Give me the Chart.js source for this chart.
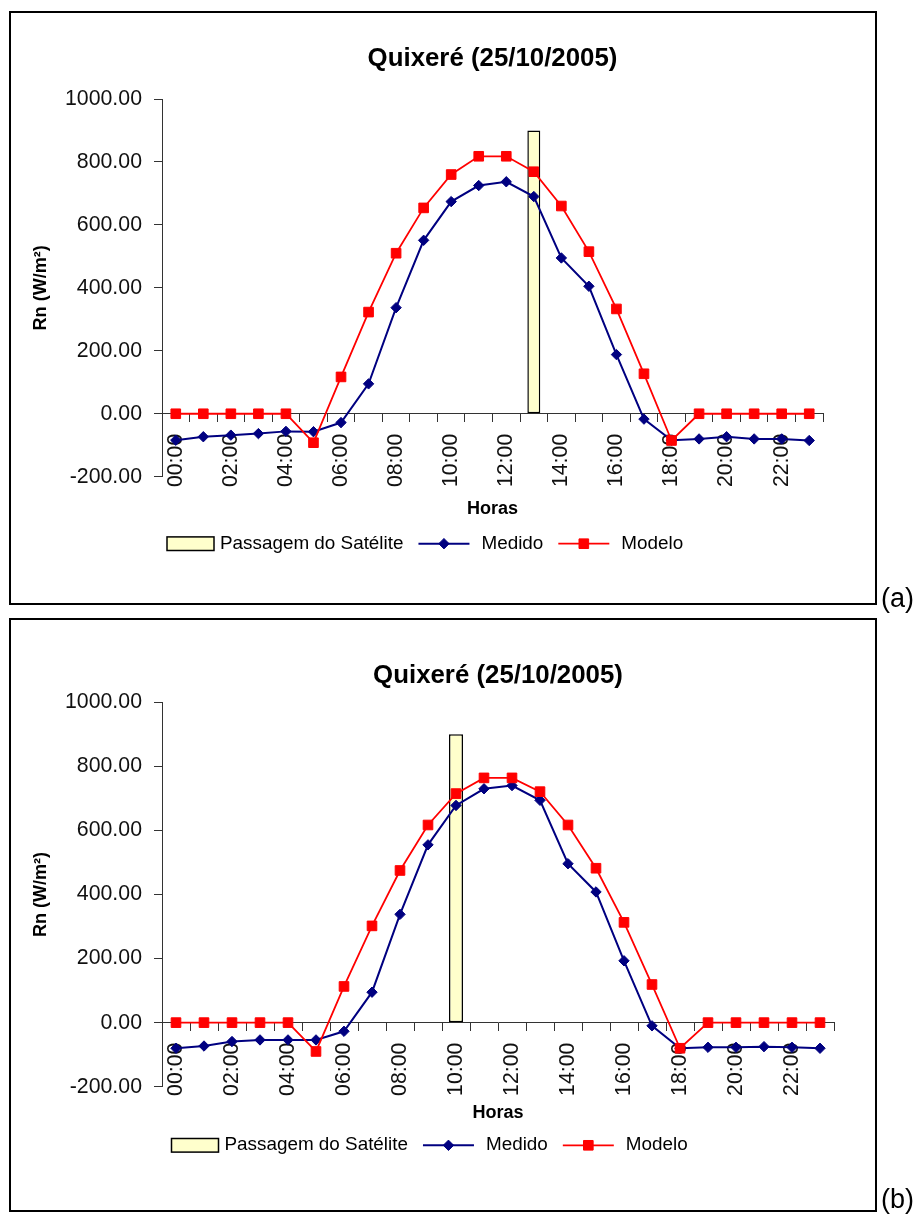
<!DOCTYPE html>
<html>
<head>
<meta charset="utf-8">
<script src="https://cdn.jsdelivr.net/npm/chart.js@4/dist/chart.umd.min.js"></script>
<style>
  html, body { margin: 0; padding: 0; background: #fff; }
  #page { position: relative; width: 915px; height: 1220px; overflow: hidden; background: #fff; }
  .frame { position: absolute; box-sizing: border-box; border: 2px solid #000; }
  .panel { position: absolute; left: 0; width: 915px; height: 610px; }
  .panel canvas { display: block; }
  .tag { position: absolute; left: 881px; font: 27px/30px "Liberation Sans", Arial, sans-serif; color: #000; }
</style>
</head>
<body>
<div id="page">
  <div class="frame" style="left:9px;top:11px;width:868px;height:594px"></div>
  <div class="frame" style="left:9px;top:618px;width:868px;height:594px"></div>
  <div class="panel" style="top:0"><canvas id="chartA" width="915" height="610"></canvas></div>
  <div class="panel" style="top:610px"><canvas id="chartB" width="915" height="610"></canvas></div>
  <div class="tag" style="top:583px">(a)</div>
  <div class="tag" style="top:1184px">(b)</div>
</div>
<script>
// Hourly net radiation, Quixeré, 25/10/2005
const hours = ['00:00','01:00','02:00','03:00','04:00','05:00','06:00','07:00','08:00','09:00','10:00','11:00',
               '12:00','13:00','14:00','15:00','16:00','17:00','18:00','19:00','20:00','21:00','22:00','23:00'];

// Panel (a): satellite overpass at 13:00
const satA    = [null,null,null,null,null,null,null,null,null,null,null,null,null,900,null,null,null,null,null,null,null,null,null,null];
const medidoA = [-84,-73,-68,-63,-56,-57,-28,95,337,551,674,725,737,690,495,405,188,-17,-84,-80,-73,-80,-80,-85];
const modeloA = [0,0,0,0,0,-92,117,323,510,654,760,818,818,769,660,515,333,127,-85,0,0,0,0,0];

// Panel (b): satellite overpass at 10:00
const satB    = [null,null,null,null,null,null,null,null,null,null,900,null,null,null,null,null,null,null,null,null,null,null,null,null];
const medidoB = [-80,-73,-59,-54,-54,-54,-27,95,338,555,678,730,740,694,496,408,193,-10,-80,-77,-77,-75,-77,-80];
const modeloB = [0,0,0,0,0,-90,113,302,475,617,715,764,764,721,617,482,313,119,-80,0,0,0,0,0];

const chartTitle = 'Quixeré (25/10/2005)';
const yTitle = 'Rn (W/m²)';
const xTitle = 'Horas';
const seriesNames = ['Passagem do Satélite', 'Medido', 'Modelo'];
const yMin = -200, yMax = 1000, yStep = 200;

// Prefer the narrow face; fall back to the regular one scaled to the same text widths.
const probe = document.createElement('canvas').getContext('2d');
function fontAvailable(name) {
  const sample = 'Passagem 1000.00 Horas';
  probe.font = '40px monospace';
  const base = probe.measureText(sample).width;
  probe.font = `40px "${name}", monospace`;
  return probe.measureText(sample).width !== base;
}
const NARROW = fontAvailable('Liberation Sans Narrow');
const FAMILY = NARROW ? '"Liberation Sans Narrow", "Arial Narrow", sans-serif'
                      : '"Liberation Sans", Arial, sans-serif';
const K = NARROW ? 1 : 0.82;

Chart.defaults.font.family = FAMILY;
Chart.defaults.color = '#111';

const AXIS_COLOR = '#333';

// Legend drawn as Excel does it: filled box for the bar, line + marker for the series
const comboLegend = {
  id: 'comboLegend',
  afterDraw(chart, args, opts) {
    const ctx = chart.ctx;
    ctx.save();
    ctx.font = `${23 * K}px ${FAMILY}`;
    ctx.textBaseline = 'middle';
    let x = opts.x;
    const y = opts.y;
    chart.data.datasets.forEach(ds => {
      if (ds.type === 'bar') {
        ctx.fillStyle = ds.backgroundColor;
        ctx.fillRect(x, y - 6.8, 47, 13.6);
        ctx.lineWidth = 1.5;
        ctx.strokeStyle = ds.borderColor;
        ctx.strokeRect(x, y - 6.8, 47, 13.6);
        x += 47 + 6;
      } else {
        ctx.strokeStyle = ds.borderColor;
        ctx.lineWidth = ds.borderWidth;
        ctx.beginPath();
        ctx.moveTo(x, y);
        ctx.lineTo(x + 51, y);
        ctx.stroke();
        ctx.fillStyle = ds.pointBackgroundColor;
        ctx.strokeStyle = ds.pointBorderColor;
        ctx.lineWidth = ds.pointBorderWidth;
        Chart.helpers.drawPoint(ctx, {
          pointStyle: ds.pointStyle, radius: ds.pointRadius,
          borderWidth: ds.pointBorderWidth, rotation: 0
        }, x + 25.5, y);
        x += 51 + 12;
      }
      ctx.fillStyle = '#000';
      ctx.fillText(ds.label, x, y);
      x += ctx.measureText(ds.label).width + 15;
    });
    ctx.restore();
  }
};

function buildChart(canvasId, sat, medido, modelo, g) {
  return new Chart(document.getElementById(canvasId), {
    type: 'bar',
    data: {
      labels: hours,
      datasets: [
        {
          type: 'bar', label: seriesNames[0], data: sat, order: 3,
          backgroundColor: '#FFFFCC', borderColor: '#000', borderWidth: 1.5,
          borderSkipped: false, barPercentage: 1, categoryPercentage: g.barShare
        },
        {
          type: 'line', label: seriesNames[1], data: medido, order: 2,
          borderColor: '#000080', backgroundColor: '#000080', borderWidth: 2,
          pointStyle: 'rectRot', pointRadius: 5.2, pointBorderWidth: 1,
          pointBackgroundColor: '#000080', pointBorderColor: '#000080', tension: 0
        },
        {
          type: 'line', label: seriesNames[2], data: modelo, order: 1,
          borderColor: '#FF0000', backgroundColor: '#FF0000', borderWidth: 1.8,
          pointStyle: 'rect', pointRadius: 6.8, pointBorderWidth: 1,
          pointBackgroundColor: '#FF0000', pointBorderColor: '#FF0000', tension: 0
        }
      ]
    },
    options: {
      responsive: false,
      animation: false,
      devicePixelRatio: 1,
      layout: { padding: { left: 15, right: g.padRight, top: 20, bottom: g.padBottom } },
      plugins: {
        legend: { display: false },
        tooltip: { enabled: false },
        title: {
          display: true, text: chartTitle, fullSize: false, color: '#000',
          font: { size: 31.5 * K, weight: 'bold', lineHeight: '36px' },
          padding: { top: g.titleTop, bottom: g.titleBottom }
        },
        comboLegend: { x: g.legendX, y: g.legendY }
      },
      scales: {
        x: {
          type: 'category',
          position: { y: 0 },
          offset: true,
          grid: { offset: true, drawOnChartArea: false, drawTicks: true, tickLength: 8, color: AXIS_COLOR },
          border: { display: true, color: AXIS_COLOR, width: 1 },
          ticks: {
            autoSkip: false, minRotation: 90, maxRotation: 90, padding: 12,
            color: '#111', font: { size: 26 * K },
            callback: (value, index) => (index % 2 === 0 ? hours[index] : '')
          },
          title: {
            display: true, text: xTitle, color: '#000',
            font: { size: 22 * K, weight: 'bold', lineHeight: '26px' },
            padding: { top: g.xTitleTop, bottom: 0 }
          }
        },
        y: {
          position: 'left',
          min: yMin, max: yMax,
          afterFit: scale => { scale.width = 147; },
          grid: { drawOnChartArea: false, drawTicks: true, tickLength: 8, color: AXIS_COLOR },
          border: { display: true, color: AXIS_COLOR, width: 1 },
          ticks: {
            stepSize: yStep, padding: 12, color: '#111', font: { size: 26 * K },
            callback: v => Number(v).toFixed(2)
          },
          title: {
            display: true, text: yTitle, color: '#000',
            font: { size: 22 * K, weight: 'bold', lineHeight: '26px' },
            padding: { top: 13, bottom: 0 }
          }
        }
      }
    },
    plugins: [comboLegend]
  });
}

buildChart('chartA', satA, medidoA, modeloA, {
  padRight: 92, padBottom: 133.3, titleTop: 21, titleBottom: 22,
  xTitleTop: -3, barShare: 0.47, legendX: 167, legendY: 543.7
});

buildChart('chartB', satB, medidoB, modeloB, {
  padRight: 81, padBottom: 133.3, titleTop: 28, titleBottom: 8.3,
  xTitleTop: -7.5, barShare: 0.5, legendX: 171.5, legendY: 535.3
});
</script>
</body>
</html>
